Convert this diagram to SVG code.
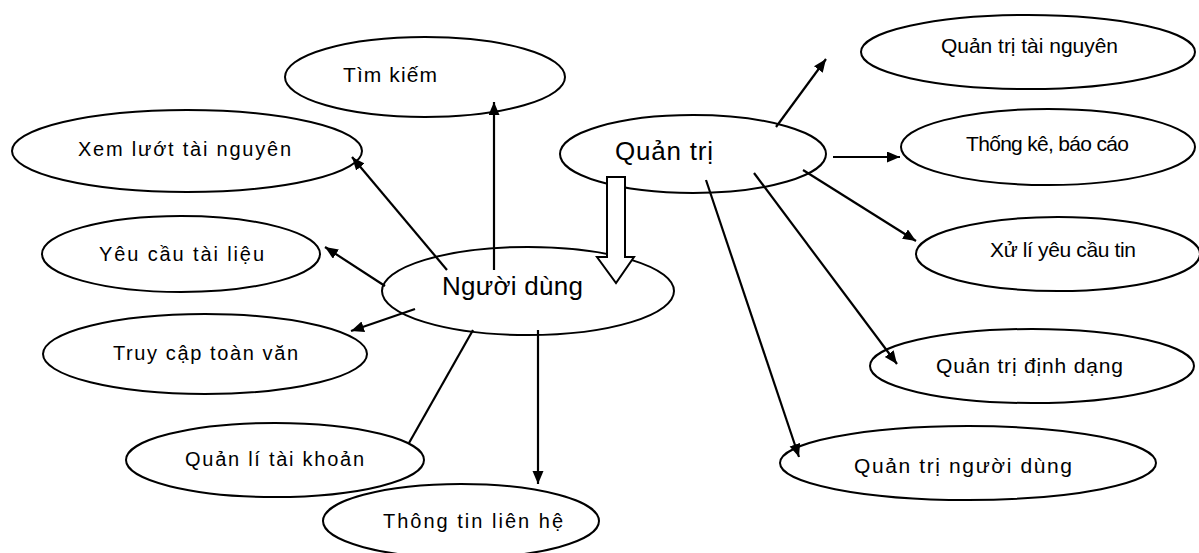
<svg xmlns="http://www.w3.org/2000/svg" width="1199" height="553" viewBox="0 0 1199 553">
<defs>
<style>
.n ellipse{fill:#fff;stroke:#000;stroke-width:2}
.n text{font-family:"Liberation Sans",Arial,sans-serif;fill:#000}
.s{font-size:20px}
.r{font-size:21px}
.b{font-size:26px}
#connectors line{stroke:#000;stroke-width:2.2}
.a{marker-end:url(#ah)}
</style>
<marker id="ah" markerUnits="userSpaceOnUse" markerWidth="14" markerHeight="12" refX="13" refY="5.5" orient="auto">
<path d="M0,0 L13,5.5 L0,11 Z" fill="#000"/>
</marker>
</defs>
<rect width="1199" height="553" fill="#fff"/>
<g id="n-timkiem" class="n"><ellipse cx="425" cy="77" rx="140" ry="40"/><text class="r" x="343" y="82" textLength="94" lengthAdjust="spacing">Tìm kiếm</text></g>
<g id="n-xemluot" class="n"><ellipse cx="187" cy="151" rx="175" ry="41"/><text class="s" x="78" y="156" textLength="213" lengthAdjust="spacing">Xem lướt tài nguyên</text></g>
<g id="n-yeucau" class="n"><ellipse cx="181" cy="254" rx="139" ry="38"/><text class="s" x="99" y="261" textLength="165" lengthAdjust="spacing">Yêu cầu tài liệu</text></g>
<g id="n-truycap" class="n"><ellipse cx="205" cy="354" rx="162" ry="40"/><text class="s" x="113" y="360" textLength="185" lengthAdjust="spacing">Truy cập toàn văn</text></g>
<g id="n-quanli" class="n"><ellipse cx="275" cy="460" rx="149" ry="37"/><text class="s" x="185" y="466" textLength="179" lengthAdjust="spacing">Quản lí tài khoản</text></g>
<g id="n-thongtin" class="n"><ellipse cx="461" cy="521" rx="138" ry="37"/><text class="s" x="383" y="528" textLength="180" lengthAdjust="spacing">Thông tin liên hệ</text></g>
<g id="n-nguoidung" class="n"><ellipse cx="528" cy="291" rx="146" ry="44"/><text class="b" x="442" y="295" textLength="141" lengthAdjust="spacing">Người dùng</text></g>
<g id="n-quantri" class="n"><ellipse cx="693" cy="154" rx="133" ry="39"/><text class="b" x="615" y="160" textLength="98" lengthAdjust="spacing">Quản trị</text></g>
<g id="n-qttainguyen" class="n"><ellipse cx="1028" cy="52" rx="167" ry="37"/><text class="r" x="941" y="53" textLength="177" lengthAdjust="spacing">Quản trị tài nguyên</text></g>
<g id="n-thongke" class="n"><ellipse cx="1048" cy="147" rx="147" ry="38"/><text class="r" x="966" y="151" textLength="163" lengthAdjust="spacing">Thống kê, báo cáo</text></g>
<g id="n-xuli" class="n"><ellipse cx="1058" cy="254" rx="142" ry="37"/><text class="r" x="990" y="257" textLength="146" lengthAdjust="spacing">Xử lí yêu cầu tin</text></g>
<g id="n-dinhdang" class="n"><ellipse cx="1032" cy="366" rx="162" ry="37"/><text class="r" x="936" y="373" textLength="187" lengthAdjust="spacing">Quản trị định dạng</text></g>
<g id="n-qtnguoidung" class="n"><ellipse cx="968" cy="463" rx="188" ry="37"/><text class="r" x="854" y="473" textLength="218" lengthAdjust="spacing">Quản trị người dùng</text></g>
<g id="connectors">
<line class="a" x1="494" y1="270" x2="494" y2="102"/>
<line class="a" x1="447" y1="270" x2="352" y2="157"/>
<line class="a" x1="385" y1="286" x2="325" y2="247"/>
<line class="a" x1="415" y1="309" x2="351" y2="331"/>
<line x1="473" y1="330" x2="409" y2="443"/>
<line class="a" x1="538" y1="330" x2="538" y2="484"/>
<line class="a" x1="776" y1="127" x2="826" y2="59"/>
<line class="a" x1="833" y1="157" x2="900" y2="157"/>
<line class="a" x1="803" y1="170" x2="916" y2="241"/>
<line class="a" x1="754" y1="173" x2="897" y2="364"/>
<line class="a" x1="706" y1="180" x2="799" y2="457"/>
<polygon points="607,177 625,177 625,257 634,257 616,283 597,257 607,257" fill="#fff" stroke="#000" stroke-width="2"/>
</g>
</svg>
